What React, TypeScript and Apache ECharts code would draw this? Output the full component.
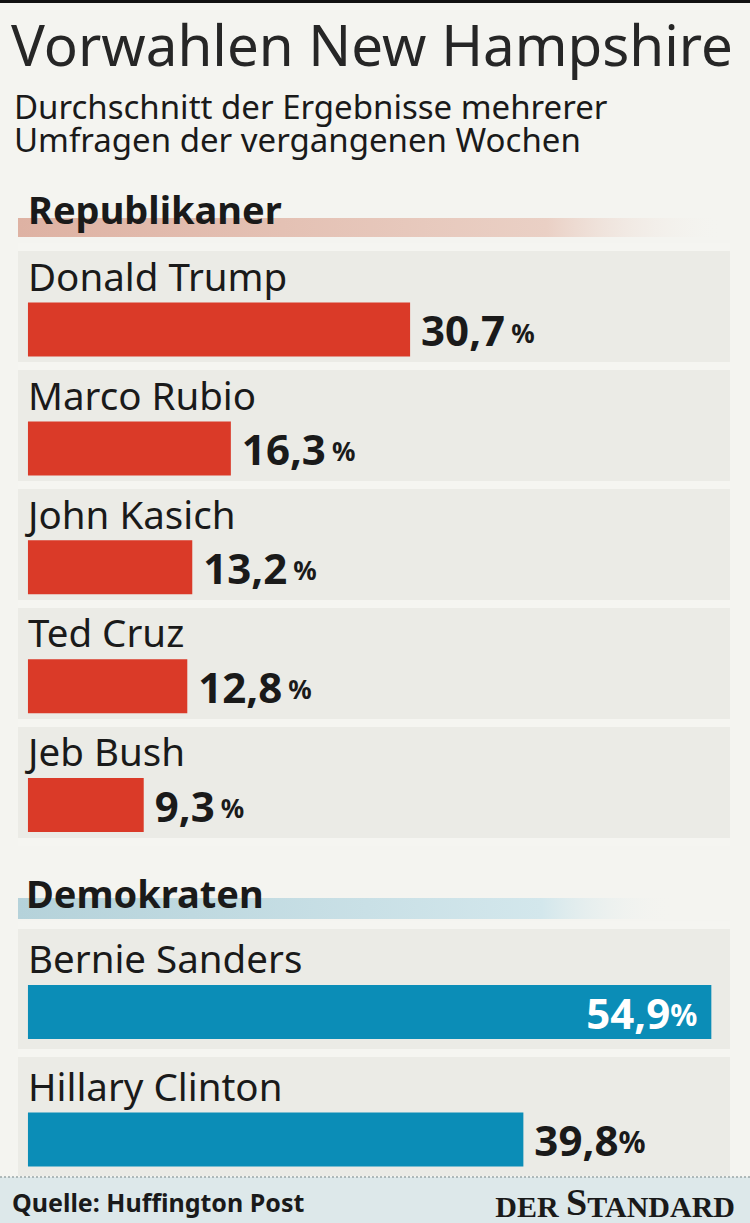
import React, { useEffect, useRef } from "react";
import * as echarts from "echarts";

const titleText = "Vorwahlen New Hampshire";
const subtitleLines = ["Durchschnitt der Ergebnisse mehrerer", "Umfragen der vergangenen Wochen"];
const repHeader = "Republikaner";
const demHeader = "Demokraten";
const repNames = ["Donald Trump", "Marco Rubio", "John Kasich", "Ted Cruz", "Jeb Bush"];
const repValues = [30.7, 16.3, 13.2, 12.8, 9.3];
const demNames = ["Bernie Sanders", "Hillary Clinton"];
const demValues = [54.9, 39.8];
const sourceText = "Quelle: Huffington Post";

const RED = "#da3a28";
const BLUE = "#0b8db7";
const INK = "#1a1a1a";
const FONT = "Noto Sans";

const fmt = (v: number) => v.toFixed(1).replace(".", ",");

export default function App() {
  const ref = useRef<HTMLDivElement>(null);
  useEffect(() => {
    document.body.style.margin = "0";
    if (!ref.current) return;
    const chart = echarts.init(ref.current, null, { renderer: "svg" });

    const yAxisBase = (gridIndex: number, data: string[]) => ({
      gridIndex,
      type: "category",
      data,
      inverse: true,
      axisLine: { show: false },
      axisTick: { show: false },
      axisLabel: {
        show: true,
        inside: true,
        margin: 10,
        align: "left",
        verticalAlign: "bottom",
        lineHeight: 61,
        fontSize: 38.5,
        fontFamily: FONT,
        color: INK,
      },
      splitArea: { show: true, areaStyle: { color: ["#ebebe6"] } },
      splitLine: { show: true, lineStyle: { color: "#f5f5f1", width: 8 } },
    });

    const xAxisBase = (gridIndex: number) => ({
      gridIndex,
      type: "value",
      min: -0.8,
      max: 56.4,
      show: false,
    });

    const repRich = {
      v: { fontSize: 42, fontWeight: "bold", color: INK, fontFamily: FONT },
      g: { fontSize: 10, width: 6 },
      p: { fontSize: 26, fontWeight: "bold", color: INK, fontFamily: FONT, padding: [6, 0, 0, 0] },
    };
    const demRich = (color: string) => ({
      v: { fontSize: 42, fontWeight: "bold", color, fontFamily: FONT },
      p: { fontSize: 30, fontWeight: "bold", color, fontFamily: FONT, padding: [4, 0, 0, 0] },
    });

    const option = {
      animation: false,
      backgroundColor: "#f4f4f0",
      textStyle: { fontFamily: FONT },
      grid: [
        { left: 18, right: 20, top: 246.8, height: 594.5 },
        { left: 18, right: 20, top: 925, height: 255 },
      ],
      xAxis: [xAxisBase(0), xAxisBase(1)],
      yAxis: [yAxisBase(0, repNames), yAxisBase(1, demNames)],
      series: [
        {
          name: "spacer-rep",
          type: "bar",
          xAxisIndex: 0,
          yAxisIndex: 0,
          data: [],
          barWidth: 46.5,
          barGap: "0%",
          silent: true,
        },
        {
          name: "Republikaner",
          type: "bar",
          xAxisIndex: 0,
          yAxisIndex: 0,
          data: repValues,
          barWidth: 54,
          barGap: "0%",
          itemStyle: { color: RED },
          label: {
            show: true,
            position: "right",
            distance: 11,
            formatter: (p: any) => `{v|${fmt(p.value)}}{g| }{p|%}`,
            rich: repRich,
          },
        },
        {
          name: "spacer-dem",
          type: "bar",
          xAxisIndex: 1,
          yAxisIndex: 1,
          data: [],
          barWidth: 46.5,
          barGap: "0%",
          silent: true,
        },
        {
          name: "Demokraten",
          type: "bar",
          xAxisIndex: 1,
          yAxisIndex: 1,
          data: demValues.map((v) =>
            v > 50
              ? {
                  value: v,
                  label: {
                    position: "insideRight",
                    distance: 14,
                    rich: demRich("#ffffff"),
                  },
                }
              : v
          ),
          barWidth: 54,
          barGap: "0%",
          itemStyle: { color: BLUE },
          label: {
            show: true,
            position: "right",
            distance: 11,
            formatter: (p: any) => `{v|${fmt(p.value)}}{p|%}`,
            rich: demRich(INK),
          },
        },
      ],
      graphic: [
        { type: "rect", shape: { x: 0, y: 0, width: 750, height: 3 }, style: { fill: "#111" } },
        {
          type: "text",
          x: 11,
          y: 44,
          style: { text: titleText, fontSize: 56.5, fontFamily: FONT, fill: "#262626", align: "left", verticalAlign: "middle" },
        },
        {
          type: "text",
          x: 14,
          y: 90,
          style: {
            text: subtitleLines.join("\n"),
            fontSize: 33,
            lineHeight: 33,
            fontFamily: FONT,
            fill: INK,
            align: "left",
            verticalAlign: "top",
          },
        },
        {
          type: "rect",
          shape: { x: 18, y: 218, width: 705, height: 19 },
          style: {
            fill: {
              type: "linear", x: 0, y: 0, x2: 1, y2: 0,
              colorStops: [
                { offset: 0, color: "#deb2a3" },
                { offset: 0.75, color: "#ead0c5" },
                { offset: 1, color: "rgba(244,244,240,0)" },
              ],
            },
          },
        },
        {
          type: "text",
          x: 28,
          y: 209,
          style: { text: repHeader, fontSize: 38, fontWeight: "bold", fontFamily: FONT, fill: INK, align: "left", verticalAlign: "middle" },
        },
        {
          type: "rect",
          shape: { x: 18, y: 898, width: 655, height: 21 },
          style: {
            fill: {
              type: "linear", x: 0, y: 0, x2: 1, y2: 0,
              colorStops: [
                { offset: 0, color: "#b5d2da" },
                { offset: 0.8, color: "#d3e7ec" },
                { offset: 1, color: "rgba(244,244,240,0)" },
              ],
            },
          },
        },
        {
          type: "text",
          x: 26,
          y: 893,
          style: { text: demHeader, fontSize: 38, fontWeight: "bold", fontFamily: FONT, fill: INK, align: "left", verticalAlign: "middle" },
        },
        { type: "rect", z: 10, shape: { x: 0, y: 1177, width: 750, height: 46 }, style: { fill: "#dde8ea" } },
        {
          type: "line",
          z: 11,
          shape: { x1: 0, y1: 1177, x2: 750, y2: 1177 },
          style: { stroke: "#9aa6a8", lineWidth: 1.5, lineDash: [2, 2] },
        },
        {
          type: "text",
          z: 12,
          x: 12,
          y: 1202,
          style: { text: sourceText, fontSize: 25, fontWeight: "bold", fontFamily: FONT, fill: INK, align: "left", verticalAlign: "middle" },
        },
        {
          type: "text",
          z: 12,
          x: 735,
          y: 1202,
          style: {
            text: "{a|DER }{b|S}{a|TANDARD}",
            align: "right",
            verticalAlign: "middle",
            rich: {
              a: { fontSize: 30, fontWeight: "bold", fontFamily: "Liberation Serif", fill: "#1a1a1a", verticalAlign: "bottom" },
              b: { fontSize: 38, fontWeight: "bold", fontFamily: "Liberation Serif", fill: "#1a1a1a", verticalAlign: "bottom" },
            },
          },
        },
      ],
    };

    chart.setOption(option as any);
    return () => chart.dispose();
  }, []);

  return <div ref={ref} style={{ width: 750, height: 1223 }} />;
}
